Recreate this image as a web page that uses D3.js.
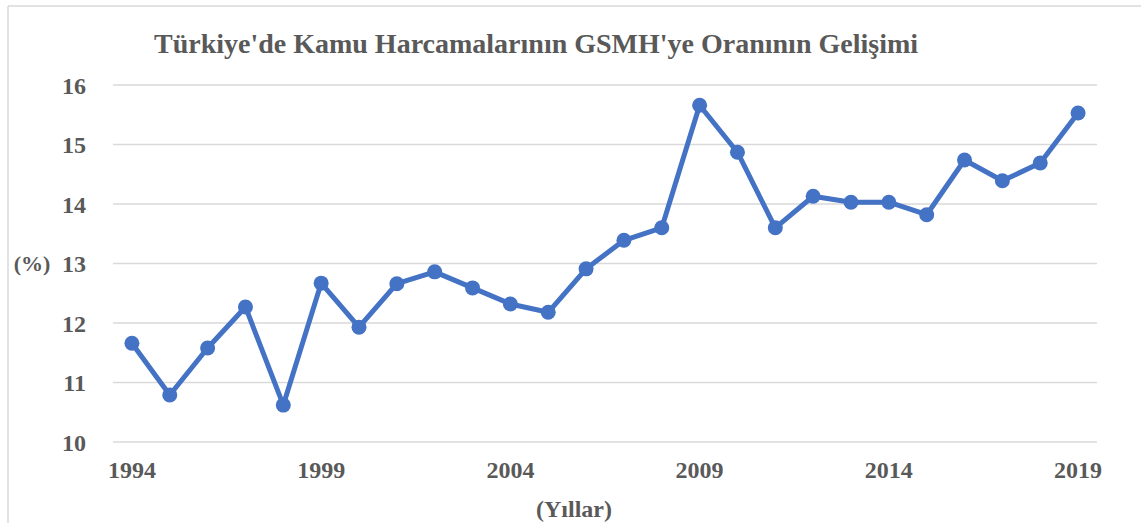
<!DOCTYPE html>
<html>
<head>
<meta charset="utf-8">
<script src="https://cdn.jsdelivr.net/npm/d3@7"></script>
<style>
	body { margin: 0; background: #fff; }
	svg text { font-family: 'Liberation Serif', 'Times New Roman', serif !important; font-weight: bold; fill: #595959; }
</style>
</head>
<body>
<script>
const years = d3.range(1994, 2020).map(String);
const values = [
	11.66, 10.79, 11.58, 12.27, 10.62, 12.67, 11.93, 12.66, 12.86, 12.59,
	12.32, 12.18, 12.91, 13.39, 13.6, 15.66, 14.87, 13.6, 14.13, 14.03,
	14.03, 13.82, 14.74, 14.39, 14.69, 15.53
];
const yTicks = [10, 11, 12, 13, 14, 15, 16];
const xTickLabels = ['1994', '1999', '2004', '2009', '2014', '2019'];

const width = 1141;
const height = 523;
const margin = { top: 85, right: 44, bottom: 81, left: 113 };

const svg = d3
	.select('body')
	.append('svg')
	.attr('width', width)
	.attr('height', height);

// chart frame (only top and left visible in the crop)
svg.append('line')
	.attr('x1', 8).attr('y1', 6).attr('x2', width).attr('y2', 6)
	.attr('stroke', '#d9d9d9').attr('stroke-width', 1.5);
svg.append('line')
	.attr('x1', 8).attr('y1', 6).attr('x2', 8).attr('y2', height)
	.attr('stroke', '#d9d9d9').attr('stroke-width', 1.5);

const x = d3
	.scaleBand()
	.domain(years)
	.range([margin.left, width - margin.right]);

const y = d3
	.scaleLinear()
	.domain([10, 16])
	.range([height - margin.bottom, margin.top]);

const cx = d => x(d) + x.bandwidth() / 2;

// gridlines
svg.append('g')
	.selectAll('line')
	.data(yTicks)
	.enter()
	.append('line')
	.attr('x1', margin.left)
	.attr('x2', width - margin.right)
	.attr('y1', d => y(d))
	.attr('y2', d => y(d))
	.attr('stroke', '#d9d9d9')
	.attr('stroke-width', 1.5);

// y axis
const yAxis = svg.append('g')
	.attr('transform', `translate(${margin.left - 27},0)`)
	.call(d3.axisLeft(y).tickValues(yTicks).tickFormat(d3.format('d')).tickSize(0).tickPadding(0));
yAxis.select('.domain').remove();
yAxis.selectAll('text').style('font-size', '24px').attr('dy', '0.35em');

// x axis
const xAxis = svg.append('g')
	.attr('transform', `translate(0,${height - margin.bottom})`)
	.call(d3.axisBottom(x).tickValues(xTickLabels).tickSize(0).tickPadding(19));
xAxis.select('.domain').remove();
xAxis.selectAll('text').style('font-size', '24px');

// line + markers
const line = d3
	.line()
	.x((d, i) => cx(years[i]))
	.y(d => y(d));

svg.append('path')
	.datum(values)
	.attr('d', line)
	.attr('fill', 'none')
	.attr('stroke', '#4472c4')
	.attr('stroke-width', 5)
	.attr('stroke-linejoin', 'round');

svg.append('g')
	.selectAll('circle')
	.data(values)
	.enter()
	.append('circle')
	.attr('cx', (d, i) => cx(years[i]))
	.attr('cy', d => y(d))
	.attr('r', 7.5)
	.attr('fill', '#4472c4');

// titles
svg.append('text')
	.attr('x', 536)
	.attr('y', 53)
	.attr('text-anchor', 'middle')
	.style('font-size', '28px')
	.text("Türkiye'de Kamu Harcamalarının GSMH'ye Oranının Gelişimi");

svg.append('text')
	.attr('x', 32)
	.attr('y', y(13))
	.attr('dy', '0.35em')
	.attr('text-anchor', 'middle')
	.style('font-size', '22px')
	.text('(%)');

svg.append('text')
	.attr('x', 574)
	.attr('y', 517)
	.attr('text-anchor', 'middle')
	.style('font-size', '24px')
	.text('(Yıllar)');
</script>
</body>
</html>
